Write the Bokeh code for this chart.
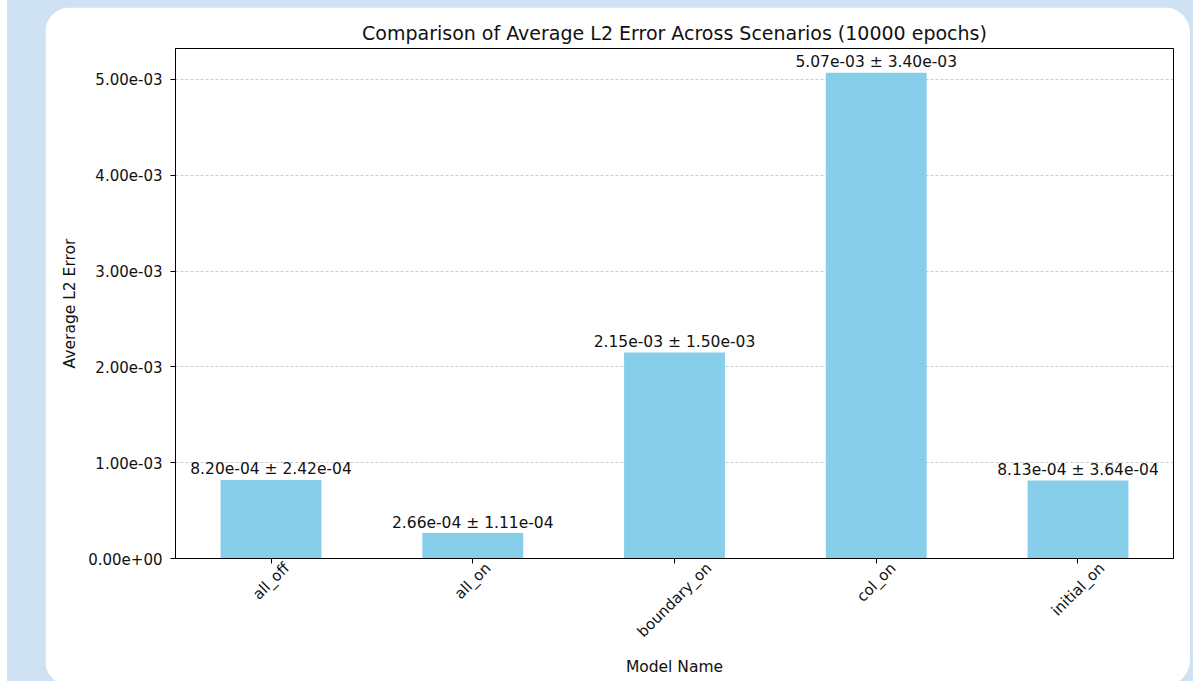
import math
from bokeh.plotting import figure
from bokeh.layouts import column
from bokeh.models import Range1d, FixedTicker, ColumnDataSource, LinearAxis
from bokeh.core.properties import value
from bokeh.embed import file_html
from bokeh.resources import INLINE

# ---- data ----
models = ["all_off", "all_on", "boundary_on", "col_on", "initial_on"]
mean_err = [8.20e-04, 2.66e-04, 2.15e-03, 5.07e-03, 8.13e-04]
std_err = [2.42e-04, 1.11e-04, 1.50e-03, 3.40e-03, 3.64e-04]
y_ticks = [0.0, 1e-3, 2e-3, 3e-3, 4e-3, 5e-3]
title_text = "Comparison of Average L2 Error Across Scenarios (10000 epochs)"

pos = list(range(len(models)))
labels = [f"{m:.2e} \u00b1 {s:.2e}" for m, s in zip(mean_err, std_err)]
src = ColumnDataSource(dict(pos=pos, model=models, mean=mean_err, std=std_err, label=labels))

FONT = "DejaVu Sans"
BG = "#cfe2f3"
TXT = "#111111"

PW, PH = 1145, 679
FRAME_W = PW - 130 - 17
p = figure(
    width=PW, height=PH,
    x_range=Range1d(-0.4735, len(models) - 1 + 0.4735),
    y_range=Range1d(0, max(mean_err) * 1.05),
    output_backend="svg", toolbar_location=None,
    min_border_left=130, min_border_right=17, min_border_top=41, min_border_bottom=128,
    x_axis_location=None,
)
p.border_fill_color = "white"
p.background_fill_color = "white"
p.styles = {"border-radius": "26px", "overflow": "hidden",
            "flex-shrink": "0", "min-height": f"{PH}px", "height": f"{PH}px"}

# ---- bars and value labels ----
p.vbar(x="pos", top="mean", width=0.5, source=src, color="#87CEEB", line_color=None)
p.text(x="pos", y="mean", text="label", source=src, text_align="center",
       text_baseline="bottom", y_offset=-1.5, text_font=value(FONT),
       text_font_size="15.5px", text_color=TXT)

# title
p.title.text = title_text
p.title.align = "center"
p.title.text_font = FONT
p.title.text_font_size = "19px"
p.title.text_font_style = "normal"
p.title.text_color = TXT
p.title.standoff = 9

# outline
p.outline_line_color = "black"
p.outline_line_width = 1
p.outline_line_alpha = 1

# y axis
ya = p.yaxis[0]
ya.ticker = FixedTicker(ticks=y_ticks)
ya.major_label_overrides = {t: f"{t:.2e}" for t in y_ticks}
ya.axis_label = "Average L2 Error"
ya.major_label_standoff = 8
ya.axis_label_standoff = 6

# x axis 1: axis line and tick marks at each category (no labels drawn)
xa1 = LinearAxis(ticker=FixedTicker(ticks=pos))
xa1.major_label_text_font_size = "1px"
xa1.major_label_text_color = None
xa1.major_label_standoff = 0

# x axis 2: rotated category names, centred under the ticks like matplotlib
CHAR_EM = {"a": 0.613, "l": 0.278, "_": 0.5, "o": 0.612, "f": 0.352, "n": 0.634,
           "b": 0.635, "u": 0.634, "d": 0.635, "r": 0.411, "y": 0.592, "c": 0.550,
           "i": 0.278, "t": 0.392}
TICK_FS = 15.0
px_per_unit = FRAME_W / (2 * 0.4735 + len(models) - 1)
shifted = []
for i, m in enumerate(models):
    w = sum(CHAR_EM.get(ch, 0.6) for ch in m) * TICK_FS
    shifted.append(round(i + (w * math.sqrt(0.5) / 2) / px_per_unit, 4))
xa2 = LinearAxis(ticker=FixedTicker(ticks=shifted))
xa2.major_label_overrides = {t: m for t, m in zip(shifted, models)}
xa2.major_label_orientation = math.pi / 4
xa2.axis_line_color = None
xa2.major_tick_line_color = None
xa2.major_tick_out = 0
xa2.major_label_standoff = 2
xa2.axis_label = "Model Name"
xa2.axis_label_standoff = 8
p.add_layout(xa1, "below")
p.add_layout(xa2, "below")

for ax in (ya, xa2):
    ax.major_label_text_font = FONT
    ax.major_label_text_color = TXT
    ax.major_label_text_font_size = "15px"
for ax in (ya, xa1, xa2):
    ax.minor_tick_line_color = None
    ax.axis_label_text_font = FONT
    ax.axis_label_text_font_size = "15.5px"
    ax.axis_label_text_font_style = "normal"
    ax.axis_label_text_color = TXT
for ax in (ya, xa1):
    ax.axis_line_color = "black"
    ax.major_tick_line_color = "black"
    ax.major_tick_out = 5
    ax.major_tick_in = 0

p.xgrid.grid_line_color = None
p.ygrid.grid_line_color = "#b0b0b0"
p.ygrid.grid_line_alpha = 0.8
p.ygrid.grid_line_width = 0.8
p.ygrid.grid_line_dash = "3 2"

page = column(p, styles={
    "background": f"linear-gradient(to right, #ffffff 0px, #ffffff 7px, {BG} 7px, {BG} 100%)",
    "padding": "7px 3px 0px 45px",
    "width": "1193px", "height": "681px",
    "box-sizing": "border-box", "overflow": "hidden",
})

open("out.html", "w").write(file_html(page, INLINE))
